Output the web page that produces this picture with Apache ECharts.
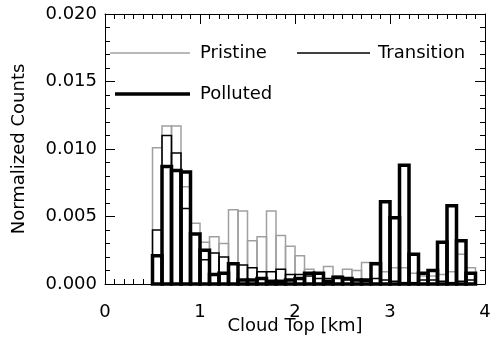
<!DOCTYPE html>
<html>
<head>
<meta charset="utf-8">
<script src="https://cdn.jsdelivr.net/npm/echarts@6/dist/echarts.min.js"></script>
<style>html,body{margin:0;padding:0;background:#fff}#c{width:490px;height:344px}</style>
</head>
<body>
<div id="c"></div>
<script>
// Histogram bins (left edges, km), bin width 0.1 km
var binLeft = [0.5,0.6,0.7,0.8,0.9,1.0,1.1,1.2,1.3,1.4,1.5,1.6,1.7,1.8,1.9,2.0,2.1,2.2,2.3,2.4,2.5,2.6,2.7,2.8,2.9,3.0,3.1,3.2,3.3,3.4,3.5,3.6,3.7,3.8,3.9];
var binWidth = 0.1;
var pristine = [0.0101,0.0117,0.0117,0.0072,0.0045,0.0031,0.0035,0.0030,0.0055,0.0054,0.0032,0.0035,0.0054,0.0036,0.0028,0.0021,0.0011,0.0008,0.0013,0.0006,0.0011,0.0010,0.0016,0.0016,0.0009,0.0012,0.0012,0.0008,0.0006,0.0006,0.0007,0.0009,0.0022,0.0012,0];
var transition = [0.0040,0.0110,0.0097,0.0056,0.0037,0.0018,0.0023,0.0020,0.0015,0.0014,0.0012,0.0009,0.0009,0.0011,0.0007,0.0007,0.0006,0.0004,0.0004,0.0004,0.0003,0.0003,0.0002,0.0004,0.0003,0.0002,0.0001,0.0001,0.0003,0.0003,0.0002,0.0001,0.0002,0.0003,0];
var polluted = [0.0021,0.0087,0.0084,0.0083,0.0037,0.0025,0.0007,0.0008,0.0015,0.0003,0.0003,0.0004,0.0002,0.0002,0.0003,0.0004,0.0008,0.0008,0.0002,0.0005,0.0004,0.0003,0.0003,0.0015,0.0061,0.0049,0.0088,0.0022,0.0008,0.0010,0.0031,0.0058,0.0032,0.0008,0];
var xTicks = [0,1,2,3,4];
var yTicks = [0,0.005,0.010,0.015,0.020];
var seriesNames = ['Pristine','Transition','Polluted'];

function toData(vals){
  var out = [];
  for (var i=0;i<binLeft.length;i++){ if (vals[i] > 0) out.push([binLeft[i], binLeft[i]+binWidth, vals[i]]); }
  return out;
}
function histSeries(name, vals, color, width){
  return {
    type:'custom', name:name, xAxisIndex:0, yAxisIndex:0,
    data: toData(vals),
    renderItem: function(params, api){
      var p0 = api.coord([api.value(0), api.value(2)]);
      var p1 = api.coord([api.value(1), 0]);
      return {type:'rect', shape:{x:p0[0], y:p0[1], width:p1[0]-p0[0], height:p1[1]-p0[1]},
        style:{fill:null, stroke:color, lineWidth:width}};
    },
    silent:true, animation:false
  };
}
var font = 'DejaVu Sans';
var axisCommon = {
  axisLine:{show:true, onZero:false, lineStyle:{color:'#000', width:1}},
  splitLine:{show:false}
};
var chart = echarts.init(document.getElementById('c'), null, {renderer:'canvas'});
chart.setOption({
  backgroundColor:'#fff',
  animation:false,
  textStyle:{fontFamily:font},
  grid:{left:105, right:5, top:14, bottom:60, containLabel:false, outerBoundsMode:'none'},
  xAxis:[
    Object.assign({type:'value', position:'bottom', min:xTicks[0], max:xTicks[xTicks.length-1], interval:1,
      axisTick:{inside:true, length:10, lineStyle:{color:'#000'}},
      minorTick:{show:true, splitNumber:10, length:5, lineStyle:{color:'#000'}},
      axisLabel:{color:'#000', fontSize:18, fontFamily:font, margin:19},
      name:'Cloud Top [km]', nameLocation:'middle', nameGap:33, nameMoveOverlap:false,
      nameTextStyle:{color:'#000', fontSize:18, fontFamily:font}}, axisCommon),
    Object.assign({type:'value', position:'top', min:xTicks[0], max:xTicks[xTicks.length-1], interval:1,
      axisTick:{inside:true, length:10, lineStyle:{color:'#000'}},
      minorTick:{show:true, splitNumber:10, length:5, lineStyle:{color:'#000'}},
      axisLabel:{show:false}}, axisCommon)
  ],
  yAxis:[
    Object.assign({type:'value', position:'left', min:yTicks[0], max:yTicks[yTicks.length-1], interval:0.005,
      axisTick:{inside:true, length:10, lineStyle:{color:'#000'}},
      minorTick:{show:true, splitNumber:5, length:5, lineStyle:{color:'#000'}},
      axisLabel:{color:'#000', fontSize:18, fontFamily:font, margin:8, formatter:function(v){return v.toFixed(3);}},
      name:'Normalized Counts', nameLocation:'middle', nameGap:77, nameRotate:90, nameMoveOverlap:false,
      nameTextStyle:{color:'#000', fontSize:18, fontFamily:font}}, axisCommon),
    Object.assign({type:'value', position:'right', min:yTicks[0], max:yTicks[yTicks.length-1], interval:0.005,
      axisTick:{inside:true, length:10, lineStyle:{color:'#000'}},
      minorTick:{show:true, splitNumber:5, length:5, lineStyle:{color:'#000'}},
      axisLabel:{show:false}}, axisCommon)
  ],
  series:[
    histSeries(seriesNames[0], pristine, '#a0a0a0', 1.5),
    histSeries(seriesNames[1], transition, '#000', 1.5),
    histSeries(seriesNames[2], polluted, '#000', 3.5)
  ],
  graphic:[
    {type:'line', shape:{x1:110,y1:53,x2:190,y2:53}, style:{stroke:'#a0a0a0', lineWidth:1.5}},
    {type:'text', x:200, y:53, style:{text:seriesNames[0], fill:'#000', font:'18px "DejaVu Sans"', textVerticalAlign:'middle', verticalAlign:'middle'}},
    {type:'line', shape:{x1:297,y1:53,x2:370,y2:53}, style:{stroke:'#000', lineWidth:1.5}},
    {type:'text', x:378, y:53, style:{text:seriesNames[1], fill:'#000', font:'18px "DejaVu Sans"', textVerticalAlign:'middle', verticalAlign:'middle'}},
    {type:'line', shape:{x1:115,y1:94,x2:190,y2:94}, style:{stroke:'#000', lineWidth:3.5}},
    {type:'text', x:200, y:94, style:{text:seriesNames[2], fill:'#000', font:'18px "DejaVu Sans"', textVerticalAlign:'middle', verticalAlign:'middle'}}
  ]
});
</script>
</body>
</html>
